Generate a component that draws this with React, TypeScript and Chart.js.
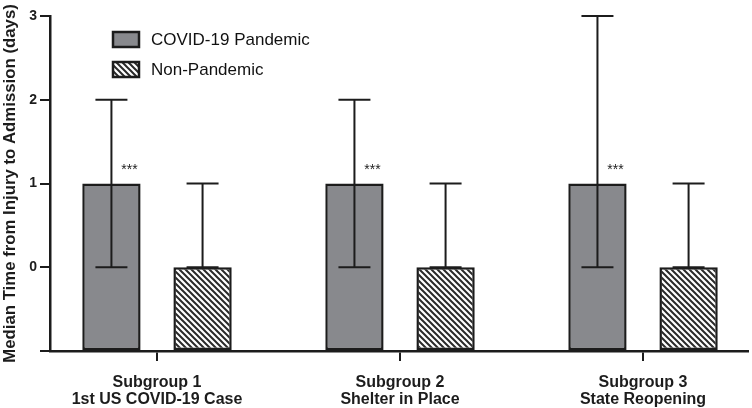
import React, { useEffect, useRef } from 'react';
import { Chart, registerables } from 'chart.js';

Chart.register(...registerables);

// ---- data ----
const categoryLines = [
  ['Subgroup 1', '1st US COVID-19 Case'],
  ['Subgroup 2', 'Shelter in Place'],
  ['Subgroup 3', 'State Reopening'],
];
const seriesNames = ['COVID-19 Pandemic', 'Non-Pandemic'];
const covidMedian = [1, 1, 1];
const covidLow = [0, 0, 0];
const covidHigh = [2, 2, 3];
const nonMedian = [0, 0, 0];
const nonLow = [0, 0, 0];
const nonHigh = [1, 1, 1];
const significance = ['***', '***', '***'];
const yTickValues = [-1, 0, 1, 2, 3];
const yLabelledTicks = [0, 1, 2, 3];
const yAxisTitle = 'Median Time from Injury to Admission (days)';

const INK = '#1c1c1c';
const GREY = '#88898d';
const FONT = "'Liberation Sans', Arial, Helvetica, sans-serif";

function makeHatch(size: number, lw: number): CanvasPattern | string {
  const c = document.createElement('canvas');
  c.width = size;
  c.height = size;
  const g = c.getContext('2d');
  if (!g) return '#fff';
  g.fillStyle = '#ffffff';
  g.fillRect(0, 0, size, size);
  g.strokeStyle = '#2a2a2a';
  g.lineWidth = lw;
  g.beginPath();
  g.moveTo(-1, -1); g.lineTo(size + 1, size + 1);
  g.moveTo(-2, size - 2); g.lineTo(2, size + 2);
  g.moveTo(size - 2, -2); g.lineTo(size + 2, 2);
  g.stroke();
  const p = g.createPattern(c, 'repeat');
  return p || '#fff';
}

export default function App() {
  const ref = useRef<HTMLCanvasElement | null>(null);

  useEffect(() => {
    const canvas = ref.current;
    if (!canvas) return;
    const hatch = makeHatch(6, 2);
    const lows = [covidLow, nonLow];
    const highs = [covidHigh, nonHigh];

    const errorBars = {
      id: 'errorBars',
      afterDatasetsDraw(chart: any) {
        const ctx = chart.ctx;
        const ys = chart.scales.y;
        ctx.save();
        ctx.strokeStyle = INK;
        ctx.lineWidth = 2;
        chart.data.datasets.forEach((_: any, d: number) => {
          const meta = chart.getDatasetMeta(d);
          meta.data.forEach((el: any, i: number) => {
            const x = el.x;
            const y1 = ys.getPixelForValue(lows[d][i]);
            const y2 = ys.getPixelForValue(highs[d][i]);
            const cap = 16;
            ctx.beginPath();
            ctx.moveTo(x, y1); ctx.lineTo(x, y2);
            ctx.moveTo(x - cap, y1); ctx.lineTo(x + cap, y1);
            ctx.moveTo(x - cap, y2); ctx.lineTo(x + cap, y2);
            ctx.stroke();
          });
        });
        // significance marks
        const meta0 = chart.getDatasetMeta(0);
        ctx.fillStyle = INK;
        ctx.font = `14px ${FONT}`;
        ctx.textAlign = 'center';
        ctx.textBaseline = 'middle';
        meta0.data.forEach((el: any, i: number) => {
          const top = ys.getPixelForValue(covidMedian[i]);
          ctx.fillText(significance[i], el.x + 18, top - 13);
        });
        ctx.restore();
      },
    };

    const legendBox = {
      id: 'legendBox',
      afterDraw(chart: any) {
        const ctx = chart.ctx;
        const fills = [GREY, hatch];
        ctx.save();
        seriesNames.forEach((name, i) => {
          const bx = 113, by = 32 + i * 30, bw = 26, bh = 15;
          ctx.fillStyle = fills[i] as any;
          ctx.fillRect(bx, by, bw, bh);
          ctx.strokeStyle = INK;
          ctx.lineWidth = 2.5;
          ctx.strokeRect(bx, by, bw, bh);
          ctx.fillStyle = '#111';
          ctx.font = `17px ${FONT}`;
          ctx.textAlign = 'left';
          ctx.textBaseline = 'middle';
          ctx.fillText(name, 151, by + bh / 2 + 1);
        });
        ctx.restore();
      },
    };

    const chart = new Chart(canvas, {
      type: 'bar',
      data: {
        datasets: [
          {
            label: seriesNames[0],
            data: covidMedian.map((v, i) => ({ x: i, y: v })),
            backgroundColor: GREY,
            borderColor: INK,
            borderWidth: 2.5,
            borderSkipped: false,
            base: -1,
          } as any,
          {
            label: seriesNames[1],
            data: nonMedian.map((v, i) => ({ x: i, y: v })),
            backgroundColor: hatch as any,
            borderColor: INK,
            borderWidth: 2.5,
            borderSkipped: false,
            base: -1,
          } as any,
        ],
      },
      options: {
        responsive: false,
        animation: false,
        devicePixelRatio: 1,
        categoryPercentage: 0.75,
        barPercentage: 0.64,
        layout: { padding: { left: 0, top: 16, right: 4, bottom: 0 } },
        plugins: {
          legend: { display: false },
          tooltip: { enabled: false },
        },
        scales: {
          x: {
            type: 'linear',
            offset: false,
            min: -0.4403,
            max: 2.432,
            afterBuildTicks(scale: any) {
              scale.ticks = categoryLines.map((_, i) => ({ value: i }));
            },
            afterFit(scale: any) {
              scale.height = 57;
            },
            ticks: {
              autoSkip: false,
              maxRotation: 0,
              padding: 13,
              color: INK,
              font: { family: FONT, size: 16, weight: 'bold', lineHeight: 1.08 },
              callback: (_v: any, i: number) => categoryLines[i],
            },
            grid: {
              display: true,
              offset: false,
              drawOnChartArea: false,
              drawTicks: true,
              tickLength: 10,
              tickWidth: 2,
              lineWidth: 2,
              color: INK,
            },
            border: { display: true, color: INK, width: 2.5 },
          } as any,
          y: {
            type: 'linear',
            min: -1,
            max: 3,
            afterBuildTicks(scale: any) {
              scale.ticks = yTickValues.map((v) => ({ value: v }));
            },
            afterFit(scale: any) {
              scale.width = 50;
            },
            ticks: {
              padding: 3,
              color: INK,
              font: { family: FONT, size: 14, weight: 'bold' },
              callback: (v: any) => (yLabelledTicks.includes(Number(v)) ? String(v) : ''),
            },
            grid: {
              display: true,
              drawOnChartArea: false,
              drawTicks: true,
              tickLength: 10,
              tickWidth: 2,
              lineWidth: 2,
              color: INK,
            },
            border: { display: true, color: INK, width: 2.5 },
            title: {
              display: true,
              text: yAxisTitle,
              color: INK,
              padding: { top: 0, bottom: 0 },
              font: { family: FONT, size: 16.8, weight: 'bold' },
            },
          } as any,
        },
      },
      plugins: [errorBars, legendBox],
    });

    return () => chart.destroy();
  }, []);

  return (
    <div style={{ position: 'fixed', left: 0, top: 0, width: 752, height: 408, background: '#fff' }}>
      <canvas ref={ref} width={752} height={408} style={{ display: 'block' }} />
    </div>
  );
}
